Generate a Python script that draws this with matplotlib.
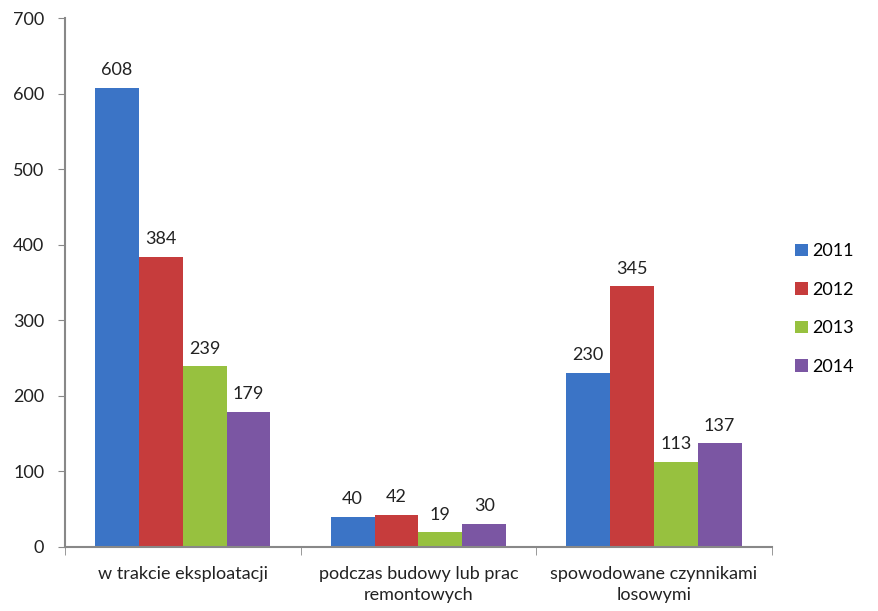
import numpy as np
import matplotlib
matplotlib.use("Agg")
import matplotlib.pyplot as plt

plt.rcParams['font.family'] = ['Lato', 'DejaVu Sans']

categories = ["w trakcie eksploatacji", "podczas budowy lub prac\nremontowych",
              "spowodowane czynnikami\nlosowymi"]
years = ["2011", "2012", "2013", "2014"]
v2011 = [608, 40, 230]
v2012 = [384, 42, 345]
v2013 = [239, 19, 113]
v2014 = [179, 30, 137]
colors = ["#3b74c6", "#c63c3c", "#97c13f", "#7b56a3"]

series = [v2011, v2012, v2013, v2014]

fig = plt.figure(figsize=(8.79, 6.11), dpi=100)
ax = fig.add_axes([0.074, 0.105, 0.804, 0.865])

x = np.arange(len(categories))
w = 0.186
for i, (vals, c, lab) in enumerate(zip(series, colors, years)):
    pos = x + (i - 1.5) * w
    bars = ax.bar(pos, vals, w, color=c, label=lab)
    for b, v in zip(bars, vals):
        ax.text(b.get_x() + b.get_width() / 2, v + 13, str(v),
                ha='center', va='bottom', fontsize=13, color='#222222')

ax.set_xlim(-0.5, 2.5)
ax.set_ylim(0, 700)
ax.set_yticks(range(0, 701, 100))
ax.set_xticks(x)
ax.set_xticklabels(categories, fontsize=13, color='#222222', linespacing=1.35)
ax.set_xticks([-0.5, 0.5, 1.5, 2.5], minor=True)
ax.tick_params(axis='x', which='major', length=0, pad=14)
ax.tick_params(axis='x', which='minor', length=6, color='#888888')
ax.tick_params(axis='y', length=5, color='#888888', labelsize=13, labelcolor='#222222', pad=10)

for s in ['top', 'right']:
    ax.spines[s].set_visible(False)
for s in ['left', 'bottom']:
    ax.spines[s].set_color('#888888')
    ax.spines[s].set_linewidth(1.5)

ax.legend(loc='center left', bbox_to_anchor=(1.01, 0.45), frameon=False,
          fontsize=13, handlelength=0.7, handleheight=0.7, handletextpad=0.25,
          labelspacing=1.25)

fig.savefig("out.png", dpi=100)
